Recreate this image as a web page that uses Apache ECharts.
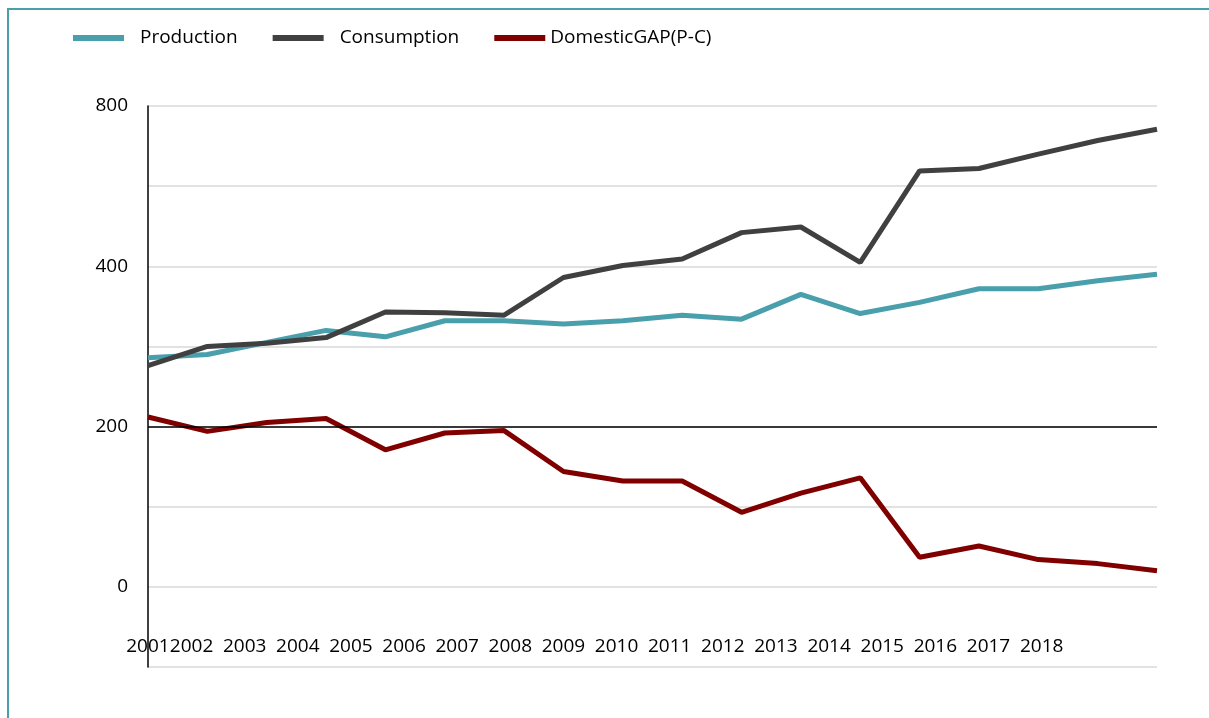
<!DOCTYPE html>
<html>
<head>
<meta charset="utf-8">
<script src="https://cdn.jsdelivr.net/npm/echarts@6/dist/echarts.min.js"></script>
<style>
  body { margin: 0; background: #fff; }
  #wrap { position: relative; width: 1209px; height: 718px; }
  #main { width: 1209px; height: 718px; }
  #frame {
    position: absolute; left: 7px; top: 8px; right: 0; bottom: 0;
    border-top: 2px solid #4a9fad; border-left: 2px solid #4a9fad;
    pointer-events: none;
  }
</style>
</head>
<body>
<div id="wrap">
  <div id="main"></div>
  <div id="frame"></div>
</div>
<script>
// years of the data points
var years = ['2001', '2002', '2003', '2004', '2005', '2006', '2007', '2008', '2009',
             '2010', '2011', '2012', '2013', '2014', '2015', '2016', '2017', '2018'];
// labels printed under the plot (two empty slots at the end, as in the picture)
var xLabels = ['2001', '2002', '2003', '2004', '2005', '2006', '2007', '2008', '2009',
               '2010', '2011', '2012', '2013', '2014', '2015', '2016', '2017', '2018', '', ''];
// y tick labels, one per gridline from -100 up to 600
var yTicks = ['', '0', '', '200', '', '400', '', '800'];

var production = [286, 290, 305, 320, 312, 332, 332, 328, 332, 339, 334, 365, 341, 355, 372, 372, 382, 390];
var consumption = [276, 300, 304, 311, 343, 342, 339, 386, 401, 409, 442, 449, 405, 519, 522, 540, 557, 571];
var gapPC = [212, 194, 205, 210, 171, 192, 195, 144, 132, 132, 93, 117, 136, 37, 51, 34, 29, 20];
var baseLine = 200;

var font = '"Open Sans", sans-serif';
var fs = 19;
var chart = echarts.init(document.getElementById('main'));

var option = {
    backgroundColor: '#fff',
    animation: false,
    textStyle: { fontFamily: font },
    legend: {
        left: 68,
        top: 22,
        itemWidth: 51,
        itemHeight: 6,
        itemGap: 35,
        icon: 'rect',
        data: ['Production', 'Consumption', 'DomesticGAP(P-C)'],
        formatter: function (name) {
            if (name === 'DomesticGAP(P-C)') return name;
            return '{p|' + name + '}';
        },
        textStyle: {
            fontFamily: font,
            fontSize: fs,
            color: '#000',
            lineHeight: 22,
            rich: {
                p: { padding: [0, 0, 0, 11], fontFamily: font, fontSize: fs, color: '#000' }
            }
        }
    },
    grid: [
        { left: 148, right: 52, top: 106, bottom: 51 },
        { left: 138.4, right: 61.1, top: 106, bottom: 51 }
    ],
    xAxis: [
        {
            type: 'category',
            gridIndex: 0,
            data: years,
            boundaryGap: false,
            axisLine: { show: false },
            axisTick: { show: false },
            axisLabel: { show: false },
            splitLine: { show: false }
        },
        {
            type: 'category',
            gridIndex: 1,
            data: xLabels,
            boundaryGap: false,
            axisLine: { show: false },
            axisTick: { show: false },
            splitLine: { show: false },
            axisLabel: {
                interval: 0,
                margin: -20,
                verticalAlign: 'middle',
                fontFamily: font,
                fontSize: fs,
                color: '#000',
                formatter: function (value, index) {
                    return index === 0 ? '{f|' + value + '}' : value;
                },
                rich: {
                    f: { padding: [0, 0, 0, 19], fontFamily: font, fontSize: fs, color: '#000' }
                }
            }
        }
    ],
    yAxis: [
        {
            type: 'value',
            gridIndex: 0,
            min: -100,
            max: 600,
            interval: 100,
            axisLine: { show: true, lineStyle: { color: '#000', width: 1.5 } },
            axisTick: { show: false },
            axisLabel: {
                margin: 20,
                fontFamily: font,
                fontSize: fs,
                color: '#000',
                formatter: function (v) {
                    return yTicks[Math.round((v + 100) / 100)];
                }
            },
            splitLine: { lineStyle: { color: '#d9d9d9', width: 1.5 } }
        },
        {
            type: 'value',
            gridIndex: 1,
            min: -100,
            max: 600,
            show: false
        }
    ],
    series: [
        {
            name: 'Production',
            type: 'line',
            data: production,
            showSymbol: false,
            symbol: 'none',
            color: '#4a9fad',
            lineStyle: { width: 5, color: '#4a9fad' },
            markLine: {
                silent: true,
                symbol: 'none',
                label: { show: false },
                lineStyle: { color: '#000', width: 1.5, type: 'solid' },
                data: [{ yAxis: baseLine }]
            }
        },
        {
            name: 'Consumption',
            type: 'line',
            data: consumption,
            showSymbol: false,
            symbol: 'none',
            color: '#404040',
            lineStyle: { width: 5, color: '#404040' }
        },
        {
            name: 'DomesticGAP(P-C)',
            type: 'line',
            data: gapPC,
            showSymbol: false,
            symbol: 'none',
            color: '#800000',
            lineStyle: { width: 5, color: '#800000' }
        }
    ]
};

chart.setOption(option);
</script>
</body>
</html>
